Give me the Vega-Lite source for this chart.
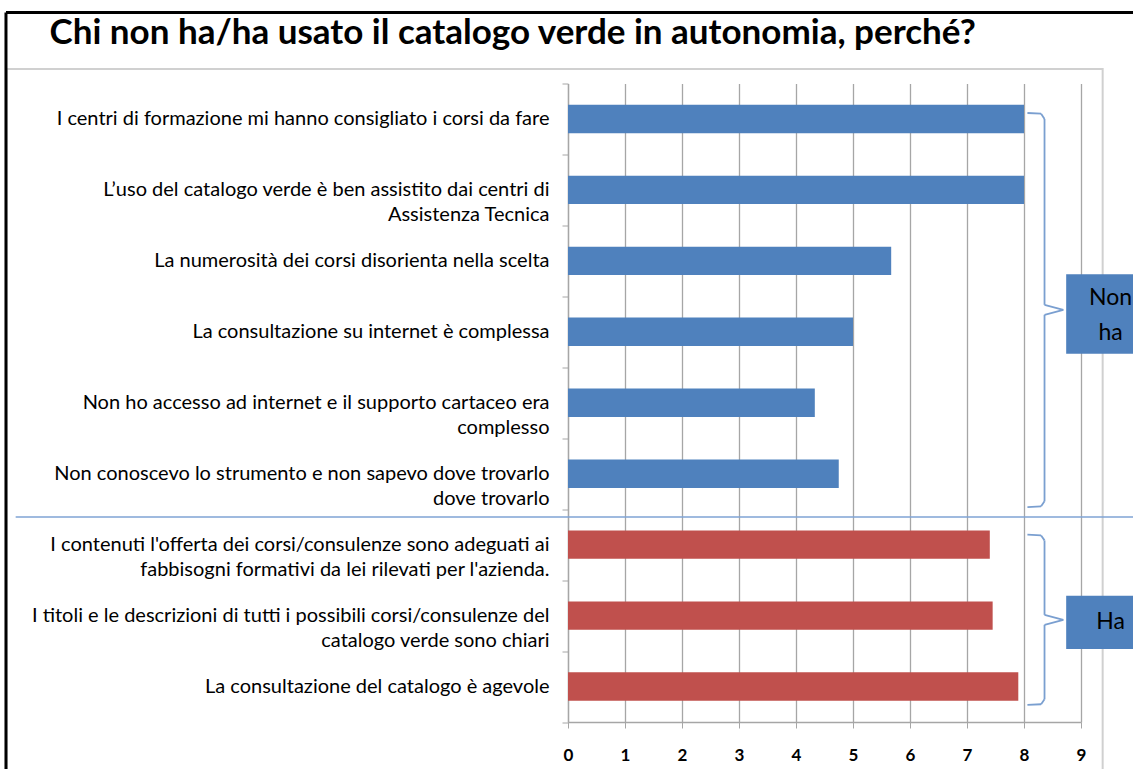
{
  "$schema": "https://vega.github.io/schema/vega-lite/v6.json",
  "width": 513,
  "height": 638.5,
  "autosize": {"type": "none"},
  "padding": {"left": 568, "top": 83.5, "right": 52, "bottom": 47},
  "background": "white",
  "config": {"view": {"stroke": null}, "font": "Lato"},
  "layer": [
    {
      "data": {
        "values": [
          {"label": "I centri di formazione  mi hanno consigliato i corsi da fare", "value": 8, "group": "Non ha"},
          {"label": "L’uso del catalogo verde è ben assistito dai centri di\nAssistenza Tecnica", "value": 8, "group": "Non ha"},
          {"label": "La numerosità dei corsi disorienta nella scelta", "value": 5.67, "group": "Non ha"},
          {"label": "La consultazione su  internet è complessa", "value": 5, "group": "Non ha"},
          {"label": "Non ho accesso ad internet e il supporto cartaceo era\ncomplesso", "value": 4.33, "group": "Non ha"},
          {"label": "Non conoscevo lo strumento e non sapevo dove trovarlo\ndove trovarlo", "value": 4.75, "group": "Non ha"},
          {"label": "I contenuti l'offerta dei corsi/consulenze sono adeguati ai\nfabbisogni formativi da lei rilevati per l'azienda.", "value": 7.4, "group": "Ha"},
          {"label": "I titoli e le descrizioni di tutti i possibili corsi/consulenze  del\ncatalogo verde sono chiari", "value": 7.45, "group": "Ha"},
          {"label": "La consultazione del catalogo  è agevole", "value": 7.9, "group": "Ha"}
        ]
      },
      "mark": {"type": "bar", "height": {"band": 0.4}},
      "encoding": {
        "y": {
          "field": "label",
          "type": "nominal",
          "sort": null,
          "scale": {"paddingInner": 0, "paddingOuter": 0},
          "axis": {
            "title": null,
            "labelExpr": "split(datum.label, '\\n')",
            "labelFont": "Lato",
            "labelFontSize": 20,
            "labelColor": "#000000",
            "labelLineHeight": 25,
            "labelLimit": 700,
            "labelPadding": 13,
            "labelAlign": "right",
            "labelBaseline": "middle",
            "tickBand": "extent",
            "tickSize": 6,
            "tickColor": "#A6A6A6",
            "domainColor": "#A6A6A6",
            "domainWidth": 1.3,
            "grid": false
          }
        },
        "x": {
          "field": "value",
          "type": "quantitative",
          "scale": {"domain": [0, 9], "nice": false, "zero": true},
          "axis": {
            "title": null,
            "values": [0, 1, 2, 3, 4, 5, 6, 7, 8, 9],
            "format": "d",
            "labelFlush": false,
            "labelFont": "Lato",
            "labelFontSize": 17,
            "labelFontWeight": "bold",
            "labelColor": "#000000",
            "labelPadding": 19,
            "tickSize": 6,
            "tickColor": "#A6A6A6",
            "domainColor": "#A6A6A6",
            "domainWidth": 1.3,
            "grid": true,
            "gridColor": "#A6A6A6",
            "gridWidth": 1.3
          }
        },
        "color": {
          "field": "group",
          "type": "nominal",
          "scale": {"domain": ["Non ha", "Ha"], "range": ["#4F81BD", "#C0504D"]},
          "legend": null
        }
      }
    },
    {
      "data": {"values": [{"n": 1}]},
      "layer": [
        {"mark": {"type": "rect", "filled": false, "stroke": "#D0D0D0", "strokeWidth": 2},
         "encoding": {"x": {"datum": -9.85, "scale": {"domain": [0, 9], "nice": false}}, "x2": {"datum": 9.38}, "y": {"datum": -0.204, "scale": {"domain": [0, 9], "reverse": true, "nice": false, "zero": false}, "axis": null}, "y2": {"datum": 10}}},
        {"mark": {"type": "rule", "color": "#000000", "strokeWidth": 3},
         "encoding": {"x": {"datum": -9.86}, "x2": {"datum": 10.5}, "y": {"datum": -1.0}}},
        {"mark": {"type": "rule", "color": "#000000", "strokeWidth": 3},
         "encoding": {"x": {"datum": -9.86}, "y": {"datum": -1.0}, "y2": {"datum": 10}}},
        {"mark": {"type": "text", "text": "Chi non ha/ha usato il catalogo verde in autonomia, perché?", "font": "Lato", "fontSize": 35, "fontWeight": "bold", "color": "#000000", "align": "left", "baseline": "alphabetic"},
         "encoding": {"x": {"datum": -9.096}, "y": {"datum": -0.555}}},
        {"mark": {"type": "rule", "color": "#7FA3D4", "strokeWidth": 1.5},
         "encoding": {"x": {"datum": -9.69}, "x2": {"datum": 10.5}, "y": {"datum": 6.11}}},

        {"mark": {"type": "rule", "color": "#7A9FD0", "strokeWidth": 1.8}, "encoding": {"x": {"datum": 8.06}, "x2": {"datum": 8.30}, "y": {"datum": 0.416}, "y2": {"datum": 0.425}}},
        {"mark": {"type": "rule", "color": "#7A9FD0", "strokeWidth": 1.8}, "encoding": {"x": {"datum": 8.30}, "x2": {"datum": 8.36}, "y": {"datum": 0.425}, "y2": {"datum": 0.50}}},
        {"mark": {"type": "rule", "color": "#7A9FD0", "strokeWidth": 1.8}, "encoding": {"x": {"datum": 8.36}, "y": {"datum": 0.50}, "y2": {"datum": 3.12}}},
        {"mark": {"type": "rule", "color": "#7A9FD0", "strokeWidth": 1.8}, "encoding": {"x": {"datum": 8.36}, "x2": {"datum": 8.69}, "y": {"datum": 3.12}, "y2": {"datum": 3.19}}},
        {"mark": {"type": "rule", "color": "#7A9FD0", "strokeWidth": 1.8}, "encoding": {"x": {"datum": 8.36}, "x2": {"datum": 8.69}, "y": {"datum": 3.26}, "y2": {"datum": 3.19}}},
        {"mark": {"type": "rule", "color": "#7A9FD0", "strokeWidth": 1.8}, "encoding": {"x": {"datum": 8.36}, "y": {"datum": 3.26}, "y2": {"datum": 5.89}}},
        {"mark": {"type": "rule", "color": "#7A9FD0", "strokeWidth": 1.8}, "encoding": {"x": {"datum": 8.36}, "x2": {"datum": 8.30}, "y": {"datum": 5.89}, "y2": {"datum": 5.96}}},
        {"mark": {"type": "rule", "color": "#7A9FD0", "strokeWidth": 1.8}, "encoding": {"x": {"datum": 8.30}, "x2": {"datum": 8.06}, "y": {"datum": 5.96}, "y2": {"datum": 5.97}}},

        {"mark": {"type": "rule", "color": "#7A9FD0", "strokeWidth": 1.8}, "encoding": {"x": {"datum": 8.06}, "x2": {"datum": 8.30}, "y": {"datum": 6.36}, "y2": {"datum": 6.37}}},
        {"mark": {"type": "rule", "color": "#7A9FD0", "strokeWidth": 1.8}, "encoding": {"x": {"datum": 8.30}, "x2": {"datum": 8.36}, "y": {"datum": 6.37}, "y2": {"datum": 6.44}}},
        {"mark": {"type": "rule", "color": "#7A9FD0", "strokeWidth": 1.8}, "encoding": {"x": {"datum": 8.36}, "y": {"datum": 6.44}, "y2": {"datum": 7.49}}},
        {"mark": {"type": "rule", "color": "#7A9FD0", "strokeWidth": 1.8}, "encoding": {"x": {"datum": 8.36}, "x2": {"datum": 8.69}, "y": {"datum": 7.49}, "y2": {"datum": 7.56}}},
        {"mark": {"type": "rule", "color": "#7A9FD0", "strokeWidth": 1.8}, "encoding": {"x": {"datum": 8.36}, "x2": {"datum": 8.69}, "y": {"datum": 7.63}, "y2": {"datum": 7.56}}},
        {"mark": {"type": "rule", "color": "#7A9FD0", "strokeWidth": 1.8}, "encoding": {"x": {"datum": 8.36}, "y": {"datum": 7.63}, "y2": {"datum": 8.68}}},
        {"mark": {"type": "rule", "color": "#7A9FD0", "strokeWidth": 1.8}, "encoding": {"x": {"datum": 8.36}, "x2": {"datum": 8.30}, "y": {"datum": 8.68}, "y2": {"datum": 8.75}}},
        {"mark": {"type": "rule", "color": "#7A9FD0", "strokeWidth": 1.8}, "encoding": {"x": {"datum": 8.30}, "x2": {"datum": 8.06}, "y": {"datum": 8.75}, "y2": {"datum": 8.76}}},

        {"mark": {"type": "rect", "color": "#4F81BD"},
         "encoding": {"x": {"datum": 8.74}, "x2": {"datum": 10.31}, "y": {"datum": 2.69}, "y2": {"datum": 3.81}}},
        {"mark": {"type": "rect", "color": "#4F81BD"},
         "encoding": {"x": {"datum": 8.74}, "x2": {"datum": 10.31}, "y": {"datum": 7.22}, "y2": {"datum": 7.97}}},
        {"mark": {"type": "text", "text": ["Non", "ha"], "font": "Lato", "fontSize": 23, "lineHeight": 35, "color": "#000000", "align": "center", "baseline": "middle"},
         "encoding": {"x": {"datum": 9.52}, "y": {"datum": 3.024}}},
        {"mark": {"type": "text", "text": "Ha", "font": "Lato", "fontSize": 23, "color": "#000000", "align": "center", "baseline": "middle"},
         "encoding": {"x": {"datum": 9.52}, "y": {"datum": 7.59}}}
      ]
    }
  ],
  "resolve": {"scale": {"y": "independent"}, "axis": {"y": "independent"}}
}
